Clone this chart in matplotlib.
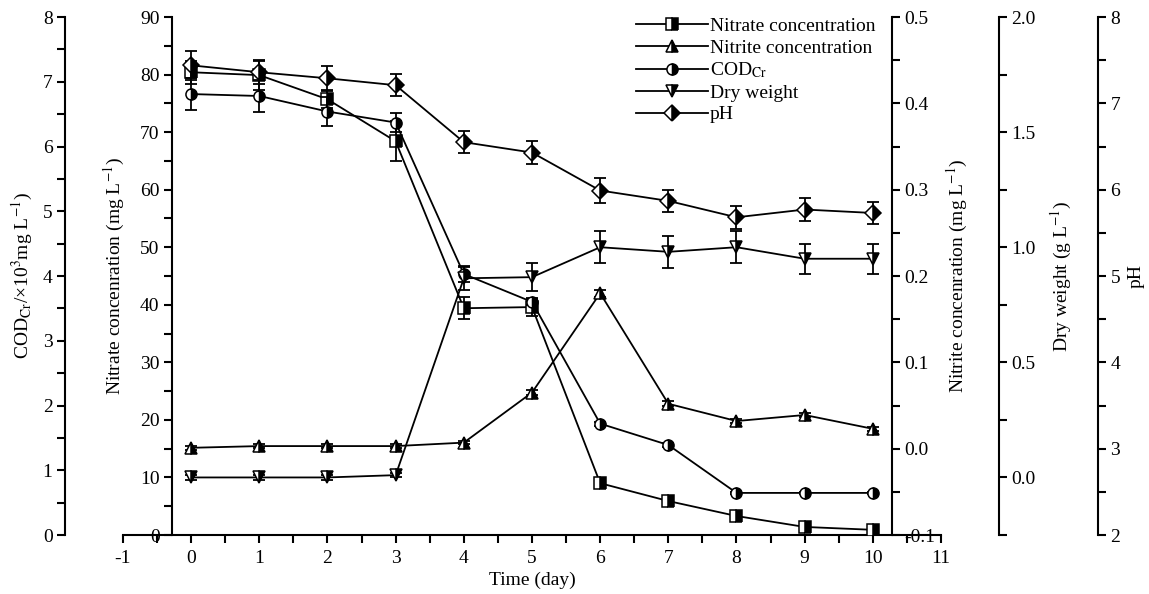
import matplotlib
matplotlib.use("Agg")
import matplotlib.pyplot as plt
from matplotlib.ticker import MultipleLocator, FormatStrFormatter

plt.rcParams['font.family'] = ['Liberation Serif', 'DejaVu Serif']
plt.rcParams['mathtext.fontset'] = 'stix'
plt.rcParams['axes.unicode_minus'] = False

days = [0, 1, 2, 3, 4, 5, 6, 7, 8, 9, 10]
nitrate = [80.4, 79.9, 75.7, 68.4, 39.4, 39.6, 9.0, 5.9, 3.3, 1.4, 0.9]
nitrate_err = [2.0, 2.5, 1.5, 3.5, 1.9, 1.5, 0.5, 0.4, 0.3, 0.2, 0.2]
nitrite = [0.001, 0.003, 0.003, 0.003, 0.007, 0.065, 0.180, 0.052, 0.032, 0.039, 0.023]
nitrite_err = [0.002, 0.002, 0.002, 0.002, 0.002, 0.003, 0.004, 0.003, 0.002, 0.002, 0.002]
cod = [6.81, 6.78, 6.54, 6.37, 4.03, 3.60, 1.72, 1.39, 0.65, 0.65, 0.65]
cod_err = [0.25, 0.25, 0.22, 0.15, 0.12, 0.05, 0.03, 0.03, 0.02, 0.02, 0.02]
dry = [0.0, 0.0, 0.0, 0.01, 0.865, 0.87, 1.0, 0.98, 1.0, 0.95, 0.95]
dry_err = [0.01, 0.01, 0.01, 0.01, 0.05, 0.06, 0.07, 0.07, 0.07, 0.065, 0.065]
ph = [7.44, 7.36, 7.29, 7.21, 6.55, 6.43, 5.99, 5.87, 5.68, 5.77, 5.73]
ph_err = [0.17, 0.14, 0.14, 0.13, 0.13, 0.13, 0.14, 0.13, 0.13, 0.13, 0.13]

fig = plt.figure(figsize=(11.49, 5.94), dpi=100)
ax = fig.add_axes([123/1149, 59/594, 818/1149, 518/594])

FS = 14
LW = 1.5

def style_series(a, x, y, err, marker, label):
    a.errorbar(x, y, yerr=err, fmt='none', ecolor='black', elinewidth=1.3,
               capsize=4, capthick=1.3, zorder=2)
    line, = a.plot(x, y, '-', color='black', lw=1.3, marker=marker, markersize=8,
                   fillstyle='right', markerfacecolor='black',
                   markerfacecoloralt='white', markeredgecolor='black',
                   markeredgewidth=1.1, label=label, zorder=3)
    return line

def tick_style(a):
    a.tick_params(axis='y', which='both', direction='out', length=6, width=LW,
                  labelsize=FS, pad=3)

# main axis: nitrate
ax.set_xlim(-1, 11)
ax.set_ylim(0, 90)
for s in ['top', 'right']:
    ax.spines[s].set_visible(False)
ax.spines['left'].set_position(('data', -0.28))
ax.spines['left'].set_linewidth(LW)
ax.spines['bottom'].set_linewidth(LW)
ax.xaxis.set_major_locator(MultipleLocator(1))
ax.xaxis.set_minor_locator(MultipleLocator(0.5))
ax.yaxis.set_major_locator(MultipleLocator(10))
ax.yaxis.set_minor_locator(MultipleLocator(5))
ax.tick_params(axis='x', which='both', direction='out', length=6, width=LW,
               labelsize=FS, pad=5)
tick_style(ax)
ax.set_xlabel('Time (day)', fontsize=FS, labelpad=3)
ax.set_ylabel('Nitrate concenration (mg L$^{-1}$)', fontsize=FS)
ax.yaxis.set_label_coords(0.005, 0.5)

# nitrite axis
ax2 = ax.twinx()
ax2.set_ylim(-0.1, 0.5)
for s in ['top', 'left', 'bottom']:
    ax2.spines[s].set_visible(False)
ax2.spines['right'].set_position(('data', 10.28))
ax2.spines['right'].set_linewidth(LW)
ax2.yaxis.set_major_locator(MultipleLocator(0.1))
ax2.yaxis.set_minor_locator(MultipleLocator(0.05))
ax2.yaxis.set_major_formatter(FormatStrFormatter('%.1f'))
tick_style(ax2)
ax2.set_ylabel('Nitrite concenration (mg L$^{-1}$)', fontsize=FS)
ax2.yaxis.set_label_coords(1.005, 0.5)

# COD axis
ax3 = ax.twinx()
ax3.set_ylim(0, 8)
for s in ['top', 'right', 'bottom']:
    ax3.spines[s].set_visible(False)
ax3.spines['left'].set_visible(True)
ax3.spines['left'].set_position(('axes', -0.0709))
ax3.spines['left'].set_linewidth(LW)
ax3.yaxis.set_ticks_position('left')
ax3.yaxis.set_label_position('left')
ax3.yaxis.set_major_locator(MultipleLocator(1))
ax3.yaxis.set_minor_locator(MultipleLocator(0.5))
tick_style(ax3)
ax3.set_ylabel('COD$_{\\rm Cr}$/×10$^{3}$mg L$^{-1}$)', fontsize=FS)
ax3.yaxis.set_label_coords(-0.107, 0.5)

# dry weight axis
ax4 = ax.twinx()
ax4.set_ylim(-0.25, 2.0)
for s in ['top', 'left', 'bottom']:
    ax4.spines[s].set_visible(False)
ax4.spines['right'].set_position(('axes', 1.071))
ax4.spines['right'].set_linewidth(LW)
ax4.yaxis.set_major_locator(MultipleLocator(0.5))
ax4.yaxis.set_minor_locator(MultipleLocator(0.25))
ax4.yaxis.set_major_formatter(FormatStrFormatter('%.1f'))
tick_style(ax4)
ax4.set_ylabel('Dry weight (g L$^{-1}$)', fontsize=FS)
ax4.yaxis.set_label_coords(1.132, 0.5)

# pH axis
ax5 = ax.twinx()
ax5.set_ylim(2, 8)
for s in ['top', 'left', 'bottom']:
    ax5.spines[s].set_visible(False)
ax5.spines['right'].set_position(('axes', 1.192))
ax5.spines['right'].set_linewidth(LW)
ax5.yaxis.set_major_locator(MultipleLocator(1))
ax5.yaxis.set_minor_locator(MultipleLocator(0.5))
tick_style(ax5)
ax5.set_ylabel('pH', fontsize=FS)
ax5.yaxis.set_label_coords(1.228, 0.5)

l1 = style_series(ax, days, nitrate, nitrate_err, 's', 'Nitrate concentration')
l2 = style_series(ax2, days, nitrite, nitrite_err, '^', 'Nitrite concentration')
l3 = style_series(ax3, days, cod, cod_err, 'o', 'COD$_{\\rm Cr}$')
l4 = style_series(ax4, days, dry, dry_err, 'v', 'Dry weight')
l5 = style_series(ax5, days, ph, ph_err, 'D', 'pH')

ax5.legend(handles=[l1, l2, l3, l4, l5], loc='upper left',
           bbox_to_anchor=(622/1149, 1 - 4/594), bbox_transform=fig.transFigure,
           frameon=False, fontsize=FS, handlelength=3.7, handletextpad=0.1,
           labelspacing=0.2, numpoints=1, borderpad=0.2)

fig.savefig('out.png', dpi=100)
